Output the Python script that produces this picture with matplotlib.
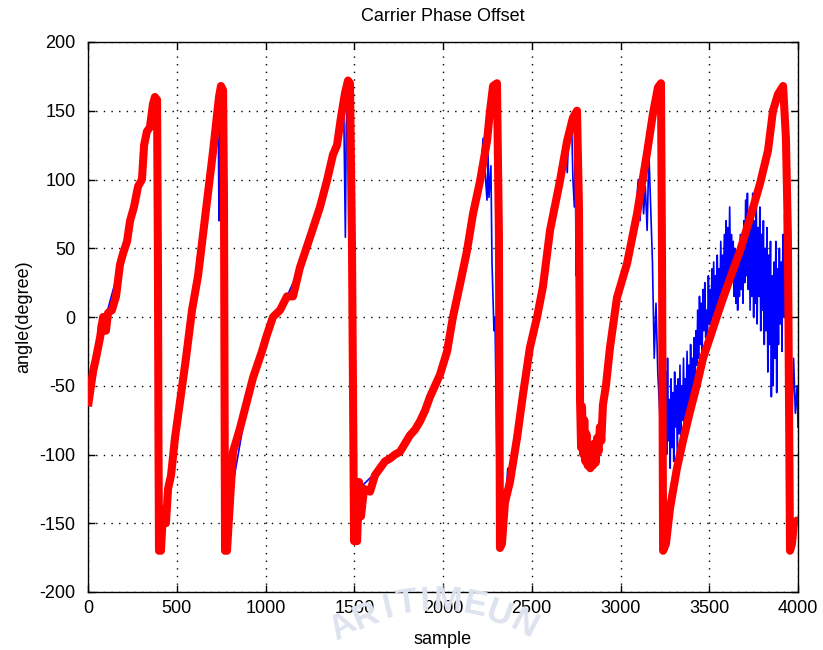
import matplotlib
matplotlib.use("Agg")
import matplotlib.pyplot as plt

# Tracked carrier phase (red) – vertices of the thick estimate trace
track_sample = [0, 11, 28, 45, 68, 85, 101, 113, 135, 158, 180, 197, 220, 237, 259, 282, 304,
                316, 332, 349, 366, 377, 389, 394, 397, 400, 411, 423, 439, 451, 468, 490, 518,
                552, 586, 620, 648, 676, 704, 721, 738, 749, 761, 766, 772, 783, 800, 817, 856,
                896, 930, 980, 1008, 1042, 1082, 1121, 1155, 1194, 1251, 1307, 1346, 1380, 1403,
                1425, 1448, 1465, 1476, 1487, 1499, 1516, 1527, 1538, 1555, 1589, 1617, 1645,
                1673, 1701, 1730, 1758, 1786, 1814, 1842, 1870, 1899, 1927, 1955, 1983, 2023,
                2056, 2096, 2135, 2169, 2209, 2248, 2265, 2282, 2304, 2315, 2321, 2332, 2349,
                2377, 2417, 2451, 2490, 2530, 2563, 2603, 2659, 2699, 2732, 2755, 2766, 2772,
                2778, 2783, 2790, 2796, 2802, 2808, 2815, 2822, 2830, 2838, 2845, 2852, 2860,
                2868, 2876, 2884, 2892, 2901, 2918, 2941, 2980,
                3037, 3093, 3149, 3183, 3211, 3228, 3234, 3240, 3256, 3279, 3318, 3352, 3391,
                3431, 3465, 3504, 3560, 3617, 3673, 3730, 3786, 3831, 3859, 3887, 3916, 3932,
                3943, 3949, 3955, 3966, 3977, 3994, 4000]
track_angle = [-65, -55, -40, -30, -15, 0, -10, 3, 5, 15, 38, 46, 55, 70, 80, 95, 100,
               125, 135, 138, 155, 160, 158, 40, -90, -170, -170, -140, -150, -125, -115, -88, -62,
               -30, 5, 30, 60, 90, 120, 140, 160, 168, 165, 90, -170, -170, -134, -98, -81,
               -61, -44, -25, -13, 0, 5, 15, 15, 36, 58, 80, 99, 118, 125,
               145, 163, 172, 170, 55, -163, -163, -120, -145, -125, -127, -115, -110,
               -105, -103, -100, -98, -92, -86, -82, -76, -68, -58, -50, -42, -25,
               0, 24, 48, 75, 99, 128, 150, 168, 170, 60, -168, -165, -135,
               -120, -88, -56, -22, 0, 22, 63, 99, 128, 145, 150, 80, -60,
               -95, -65, -100, -75, -105, -85, -108, -95, -110, -100, -108, -92, -106,
               -88, -98, -80, -90, -64, -50, -22, 14,
               39, 75, 119, 148, 167, 170, 40, -170, -165, -139, -110, -90, -69,
               -49, -30, -15, 7, 28, 48, 72, 97, 121, 150, 162, 168, 130,
               60, -50, -170, -165, -150, -148, -150]

# Measured phase (blue) – thin noisy trace
meas_sample = [0, 20, 40, 60, 100, 180, 240, 300, 330, 380, 394, 400, 420, 490, 586, 648, 700,
               725, 735, 738, 742, 755, 765, 800, 900, 1042, 1121, 1194, 1307, 1380, 1420,
               1440, 1446, 1450, 1455, 1470, 1495, 1527, 1645, 1758, 1870, 1983, 2056, 2135,
               2209, 2226, 2240, 2248, 2254, 2259, 2270, 2276, 2287, 2293, 2305, 2321, 2349,
               2365, 2377, 2417, 2451, 2490, 2530, 2603, 2659, 2690, 2700, 2710, 2725, 2732,
               2740, 2745, 2750, 2755, 2762, 2800, 2830, 2860, 2900, 2941, 2980, 3037, 3080,
               3100, 3110, 3120, 3130, 3140, 3150, 3160, 3170, 3180, 3190, 3200, 3210, 3225,
               3235, 3240, 3245, 3250, 3255, 3260, 3265, 3270, 3275, 3280, 3285, 3290, 3295,
               3300, 3305, 3310, 3315, 3320, 3325, 3330, 3335, 3340, 3345, 3350, 3355, 3360,
               3365, 3370, 3375, 3380, 3385, 3390, 3395, 3400, 3405, 3410, 3415, 3420, 3425,
               3430, 3435, 3440, 3445, 3450, 3455, 3460, 3465, 3470, 3475, 3480, 3485, 3490,
               3495, 3500, 3505, 3510, 3515, 3520, 3525, 3530, 3535, 3540, 3545, 3550, 3555,
               3560, 3565, 3570, 3575, 3580, 3585, 3590, 3595, 3600, 3605, 3610, 3615, 3620,
               3625, 3630, 3635, 3640, 3645, 3650, 3655, 3660, 3665, 3670, 3675, 3680, 3685,
               3690, 3695, 3700, 3705, 3710, 3715, 3720, 3725, 3730, 3735, 3740, 3745, 3750,
               3755, 3760, 3765, 3770, 3775, 3780, 3785, 3790, 3795, 3800, 3805, 3810, 3815,
               3820, 3825, 3830, 3835, 3840, 3845, 3850, 3855, 3860, 3865, 3870, 3875, 3880,
               3885, 3890, 3895, 3900, 3905, 3910, 3915, 3920, 3925, 3930, 3935, 3940, 3945,
               3950, 3955, 3965, 3975, 3985, 3995, 4000]
meas_angle = [-60, -35, -45, -5, 0, 38, 72, 100, 135, 162, 150, -168, -150, -88, 5, 75, 120,
              140, 123, 70, 140, 166, -168, -134, -60, 0, 15, 36, 80, 115, 150,
              160, 100, 58, 140, 172, -163, -125, -110, -98, -76, -42, 0, 48,
              99, 130, 100, 85, 118, 87, 110, 40, -10, 0, -120, -165, -140,
              -110, -125, -85, -56, -22, 0, 63, 99, 130, 105, 140, 140, 100,
              80, 125, 30, 100, -60, -80, -100, -95, -60, -22, 14, 40, 65,
              100, 70, 105, 75, 95, 63, 120, 80, 40, -30, 10, -40, -80,
              -170, -170, -160, -120, -40, -100, -30, -90, -60, -110, -45, -95, -55,
              -105, -40, -80, -50, -100, -45, -85, -35, -90, -50, -75, -30, -80,
              -45, -70, -25, -65, -35, -60, -20, -55, -30, -60, -15, -45, -10,
              -35, 5, -30, 15, -20, 10, -25, 20, -10, 25, -15, 5, -20,
              30, -5, 20, -10, 35, 0, 40, -5, 30, 5, 45, 10, 35,
              15, 55, 10, 45, 20, 60, 15, 70, 25, 65, 30, 80, 35,
              60, 30, 55, 15, 50, 10, 45, 5, 40, 15, 60, 20, 55,
              10, 70, 25, 85, 30, 90, 20, 75, 5, 80, 15, 90, 0,
              70, 10, 85, -5, 65, 15, 80, -10, 60, 5, 70, -20, 50,
              -10, 65, -40, 45, -20, 55, -58, 30, -50, 40, -30, 55, -55,
              35, -20, 50, -5, 40, -25, 60, 0, 75, 20, 90, 100, -60,
              -100, -40, -80, -30, -70, -50, -80]

x_ticks = [0, 500, 1000, 1500, 2000, 2500, 3000, 3500, 4000]
y_ticks = [-200, -150, -100, -50, 0, 50, 100, 150, 200]

# faint seal lettering printed along an arc under the x axis
seal_letters = ["A", "R", "I", "T", "I", "M", "E", "U", "N"]
seal_x = [342, 366, 388, 407, 425, 448, 475, 499, 524]
seal_y = [626, 616, 608, 603, 601, 601, 605, 614, 625]
seal_rot = [30, 22, 14, 8, 3, -3, -12, -20, -28]

plt.rcParams["font.family"] = ["Liberation Sans", "DejaVu Sans"]
plt.rcParams["axes.unicode_minus"] = False

W, H = 823, 650
fig = plt.figure(figsize=(W / 100, H / 100), dpi=100)
ax = fig.add_axes([88 / W, 1 - 592 / H, 710 / W, 550 / H])

for ch, px, py, r in zip(seal_letters, seal_x, seal_y, seal_rot):
    fig.text(px / W, 1 - py / H, ch, fontsize=25, fontweight="bold", color="#dde4ef",
             rotation=r, ha="center", va="center", zorder=0)

ax.plot(meas_sample, meas_angle, color="#0000ff", linewidth=1.2, zorder=2)
ax.plot(track_sample, track_angle, color="#ff0000", linewidth=5.8, zorder=3,
        solid_joinstyle="round", solid_capstyle="butt")

ax.set_xlim(0, 4000)
ax.set_ylim(-200, 200)
ax.set_xticks(x_ticks)
ax.set_yticks(y_ticks)
ax.tick_params(direction="in", length=5, width=1, top=True, right=True,
               labelsize=13)
ax.tick_params(axis="y", pad=9)
ax.tick_params(axis="x", pad=6)
for s in ax.spines.values():
    s.set_linewidth(1.0)
ax.grid(True, color="black", linestyle=(0, (1, 4.5)), linewidth=1.0)
ax.set_axisbelow(True)
ax.patch.set_alpha(0)

ax.set_title("Carrier Phase Offset", fontsize=13, pad=15)
ax.set_xlabel("sample", fontsize=13, labelpad=10)
ax.set_ylabel("angle(degree)", fontsize=13, labelpad=5)

fig.savefig("out.png", dpi=100)
